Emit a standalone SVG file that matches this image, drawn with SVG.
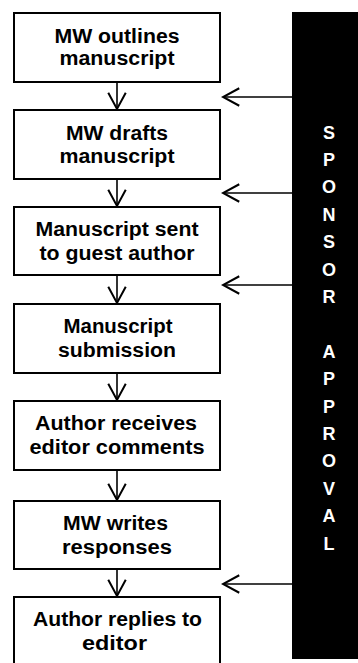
<svg xmlns="http://www.w3.org/2000/svg" width="358" height="663" viewBox="0 0 358 663">
<style>
.box{fill:#fff;stroke:#000;stroke-width:2}
.t{font-family:"Liberation Sans",Arial,sans-serif;font-weight:bold;font-size:20px;fill:#000;text-anchor:middle}
.v{font-family:"Liberation Sans",Arial,sans-serif;font-weight:bold;font-size:18px;fill:#fff;text-anchor:middle}
.ln{stroke:#000;stroke-width:1.6;fill:none}
</style>
<defs>
<marker id="ah" markerUnits="userSpaceOnUse" markerWidth="20" markerHeight="20" viewBox="-14 -8 16 16" refX="0" refY="0" orient="auto">
<path d="M-13,-7 L0,0 L-13,7" fill="none" stroke="#000" stroke-width="1.6"/>
</marker>
</defs>
<rect x="292" y="12" width="66" height="647" fill="#000"/>
<g>
<text class="v" x="329" y="138.5">S</text>
<text class="v" x="329" y="165.9">P</text>
<text class="v" x="329" y="193.3">O</text>
<text class="v" x="329" y="220.7">N</text>
<text class="v" x="329" y="248.1">S</text>
<text class="v" x="329" y="275.5">O</text>
<text class="v" x="329" y="302.9">R</text>
<text class="v" x="329" y="357.7">A</text>
<text class="v" x="329" y="385.1">P</text>
<text class="v" x="329" y="412.5">P</text>
<text class="v" x="329" y="439.9">R</text>
<text class="v" x="329" y="467.3">O</text>
<text class="v" x="329" y="494.7">V</text>
<text class="v" x="329" y="522.1">A</text>
<text class="v" x="329" y="549.5">L</text>
</g>
<g id="n1"><rect class="box" x="14" y="13" width="206" height="69"/>
<text class="t" x="117" y="42.5" textLength="125" lengthAdjust="spacingAndGlyphs">MW outlines</text>
<text class="t" x="117" y="65" textLength="115" lengthAdjust="spacingAndGlyphs">manuscript</text></g>
<g id="n2"><rect class="box" x="14" y="110" width="206" height="69"/>
<text class="t" x="117" y="140" textLength="102" lengthAdjust="spacingAndGlyphs">MW drafts</text>
<text class="t" x="117" y="163" textLength="115" lengthAdjust="spacingAndGlyphs">manuscript</text></g>
<g id="n3"><rect class="box" x="14" y="207" width="206" height="68"/>
<text class="t" x="117" y="236" textLength="163" lengthAdjust="spacingAndGlyphs">Manuscript sent</text>
<text class="t" x="117" y="259.5" textLength="155" lengthAdjust="spacingAndGlyphs">to guest author</text></g>
<g id="n4"><rect class="box" x="14" y="304" width="206" height="69"/>
<text class="t" x="118" y="333" textLength="109" lengthAdjust="spacingAndGlyphs">Manuscript</text>
<text class="t" x="117" y="356.5" textLength="118" lengthAdjust="spacingAndGlyphs">submission</text></g>
<g id="n5"><rect class="box" x="14" y="401" width="206" height="69"/>
<text class="t" x="116" y="430" textLength="162" lengthAdjust="spacingAndGlyphs">Author receives</text>
<text class="t" x="117" y="453.5" textLength="175" lengthAdjust="spacingAndGlyphs">editor comments</text></g>
<g id="n6"><rect class="box" x="14" y="501" width="206" height="68"/>
<text class="t" x="115.5" y="530" textLength="105" lengthAdjust="spacingAndGlyphs">MW writes</text>
<text class="t" x="117" y="553.5" textLength="110" lengthAdjust="spacingAndGlyphs">responses</text></g>
<g id="n7"><rect class="box" x="14" y="597" width="206" height="80"/>
<text class="t" x="117.5" y="625.5" textLength="169" lengthAdjust="spacingAndGlyphs">Author replies to</text>
<text class="t" x="114.5" y="650" textLength="65" lengthAdjust="spacingAndGlyphs">editor</text></g>
<g id="connectors">
<line class="ln" x1="117" y1="82" x2="117" y2="109" marker-end="url(#ah)"/>
<line class="ln" x1="117" y1="179" x2="117" y2="206" marker-end="url(#ah)"/>
<line class="ln" x1="117" y1="275" x2="117" y2="303" marker-end="url(#ah)"/>
<line class="ln" x1="117" y1="373" x2="117" y2="400" marker-end="url(#ah)"/>
<line class="ln" x1="117" y1="470" x2="117" y2="500" marker-end="url(#ah)"/>
<line class="ln" x1="117" y1="569" x2="117" y2="596" marker-end="url(#ah)"/>
<line class="ln" x1="292" y1="97" x2="223" y2="97" marker-end="url(#ah)"/>
<line class="ln" x1="292" y1="193" x2="223" y2="193" marker-end="url(#ah)"/>
<line class="ln" x1="292" y1="285" x2="223" y2="285" marker-end="url(#ah)"/>
<line class="ln" x1="292" y1="584" x2="223" y2="584" marker-end="url(#ah)"/>
</g>
</svg>
